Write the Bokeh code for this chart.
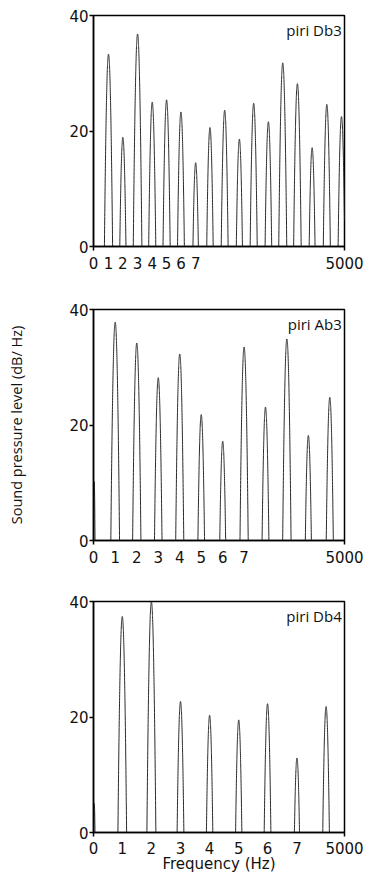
import numpy as np
from bokeh.plotting import figure
from bokeh.layouts import column
from bokeh.models import Range1d, FixedTicker, Label
from bokeh.embed import file_html
from bokeh.resources import INLINE

# ---- data ----
db3_freq = [299, 585, 878, 1170, 1456, 1742, 2035, 2320, 2613, 2906, 3191, 3484, 3770, 4062, 4355, 4648, 4940]
db3_level = [33.3, 18.9, 36.8, 25.0, 25.4, 23.3, 14.5, 20.6, 23.6, 18.6, 24.8, 21.6, 31.8, 28.2, 17.1, 24.6, 22.5]

ab3_freq = [15, 432, 862, 1290, 1718, 2146, 2574, 3000, 3426, 3852, 4280, 4707]
ab3_level = [10.2, 37.8, 34.2, 28.2, 32.3, 21.8, 17.2, 33.5, 23.1, 34.9, 18.2, 24.8]

db4_freq = [15, 573, 1153, 1733, 2313, 2893, 3467, 4053, 4633]
db4_level = [5.0, 37.4, 40.0, 22.7, 20.3, 19.5, 22.3, 12.9, 21.8]

panel_names = ["piri Db3", "piri Ab3", "piri Db4"]
harmonic_labels = ["1", "2", "3", "4", "5", "6", "7"]
y_ticks = [0, 20, 40]
x_max = 5000
y_max = 40

# peak shape (parabolic in dB)
curvature = 0.005
grid = np.linspace(0, x_max, 5001)


def spectrum(freqs, levels):
    y = np.zeros_like(grid)
    for f, h in zip(freqs, levels):
        if f < 100:
            pk = h * (1 - ((grid - f) / 15.0) ** 2)
        else:
            pk = h - curvature * (grid - f) ** 2
        y = np.maximum(y, pk)
    return y


FONT_TICK = "DejaVu Sans"


def make_panel(freqs, levels, name, harm_freqs, top_border, bottom_border, ylabel=None, xlabel=None):
    p = figure(frame_width=251, frame_height=231,
               min_border_left=93, min_border_right=26,
               min_border_top=top_border, min_border_bottom=bottom_border,
               x_range=Range1d(0, x_max), y_range=Range1d(0, y_max),
               output_backend="svg", toolbar_location=None)
    p.grid.visible = False
    p.outline_line_color = "black"
    p.outline_line_width = 1.5
    p.outline_line_alpha = 1
    p.background_fill_color = "white"
    p.border_fill_color = "white"

    p.line(grid, spectrum(freqs, levels), line_color="#2a2a2a", line_width=1)

    # x axis
    ticks = [0] + list(harm_freqs) + [x_max]
    xa = p.xaxis[0]
    xa.ticker = FixedTicker(ticks=ticks, minor_ticks=[0, x_max])
    overrides = {0: "0", x_max: "5000"}
    for f, lab in zip(harm_freqs, harmonic_labels):
        overrides[f] = lab
    xa.major_label_overrides = overrides
    xa.major_tick_out = 0
    xa.major_tick_in = 0
    xa.minor_tick_out = 4
    xa.minor_tick_in = 0
    xa.axis_line_width = 1.5
    xa.minor_tick_line_width = 1.5
    xa.major_label_text_font = FONT_TICK
    xa.major_label_text_font_size = "15px"
    xa.major_label_text_color = "#111111"
    xa.major_label_standoff = 6
    if xlabel:
        xa.major_label_standoff = 5
        xa.axis_label = xlabel
        xa.axis_label_text_font = FONT_TICK
        xa.axis_label_text_font_size = "15px"
        xa.axis_label_text_font_style = "normal"
        xa.axis_label_text_color = "#111111"
        xa.axis_label_standoff = -2

    # y axis
    ya = p.yaxis[0]
    ya.ticker = FixedTicker(ticks=y_ticks, minor_ticks=[])
    ya.major_tick_out = 4
    ya.major_tick_in = 0
    ya.major_tick_line_width = 1.5
    ya.axis_line_width = 1.5
    ya.major_label_text_font = FONT_TICK
    ya.major_label_text_font_size = "15px"
    ya.major_label_text_color = "#111111"
    ya.major_label_standoff = 1
    if ylabel:
        ya.axis_label = ylabel
        ya.axis_label_text_font = "Open Sans"
        ya.axis_label_text_font_size = "14.5px"
        ya.axis_label_text_font_style = "normal"
        ya.axis_label_text_color = "#111111"
        ya.axis_label_standoff = 40

    p.add_layout(Label(x=4945, y=39.3, text=name, text_align="right", text_baseline="top",
                       text_font="Open Sans", text_font_size="15px", text_color="#111111"))
    return p


p1 = make_panel(db3_freq, db3_level, panel_names[0], db3_freq[:7], 15, 56)
p2 = make_panel(ab3_freq, ab3_level, panel_names[1], ab3_freq[1:8], 7, 54,
                ylabel="Sound pressure level (dB/ Hz)")
p3 = make_panel(db4_freq, db4_level, panel_names[2], db4_freq[1:8], 7, 37,
                xlabel="Frequency (Hz)")

layout = column(p1, p2, p3)
open("out.html", "w").write(file_html(layout, INLINE))
